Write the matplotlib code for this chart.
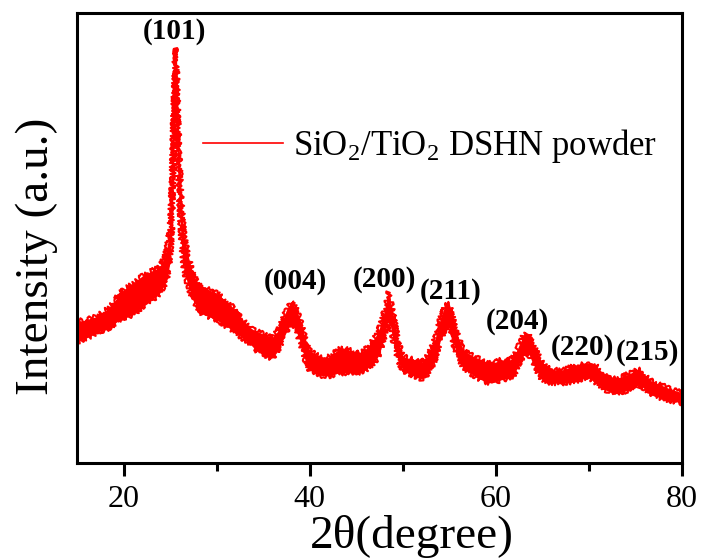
import numpy as np
import matplotlib.pyplot as plt

#%% data (intensity in arbitrary units)
two_theta = [15.0, 15.5, 16.0, 16.5, 17.0, 17.5, 18.0, 18.5, 19.0, 19.5,
             20.0, 20.5, 21.0, 21.5, 22.0, 22.5, 23.0, 23.5, 24.0, 24.5,
             24.75, 25.0, 25.2, 25.35, 25.5, 25.6, 25.7, 25.85, 26.0, 26.25,
             26.5, 27.0, 27.5, 28.0, 28.5, 29.0, 29.5, 30.0, 30.5, 31.0,
             31.5, 32.0, 32.5, 33.0, 33.5, 34.0, 34.5, 35.0, 35.5, 36.0,
             36.5, 37.0, 37.5, 38.0, 38.5, 39.0, 39.5, 40.0, 40.5, 41.0,
             41.5, 42.0, 42.5, 43.0, 43.5, 44.0, 44.5, 45.0, 45.5, 46.0,
             46.5, 47.0, 47.5, 48.0, 48.5, 49.0, 49.5, 50.0, 50.5, 51.0,
             51.5, 52.0, 52.5, 53.0, 53.5, 54.0, 54.5, 55.0, 55.5, 56.0,
             56.5, 57.0, 57.5, 58.0, 58.5, 59.0, 59.5, 60.0, 60.5, 61.0,
             61.5, 62.0, 62.5, 63.0, 63.5, 64.0, 64.5, 65.0, 65.5, 66.0,
             66.5, 67.0, 67.5, 68.0, 68.5, 69.0, 69.5, 70.0, 70.5, 71.0,
             71.5, 72.0, 72.5, 73.0, 73.5, 74.0, 74.5, 75.0, 75.5, 76.0,
             76.5, 77.0, 77.5, 78.0, 78.5, 79.0, 79.5, 80.0]

# upper and lower edge of the noisy trace
int_top = [143, 142, 143, 145, 146, 149, 152, 156, 161, 169,
           173, 176, 179, 183, 187, 189, 192, 194, 198, 208,
           220, 238, 283, 343, 398, 415, 403, 353, 308, 258,
           228, 205, 188, 180, 176, 174, 172, 170, 166, 162,
           158, 153, 147, 141, 136, 133, 131, 129, 127, 126,
           131, 141, 153, 161, 155, 143, 125, 113, 109, 107,
           106, 106, 109, 113, 115, 114, 112, 110, 111, 114,
           119, 125, 135, 151, 171, 148, 123, 107, 105, 104,
           103, 101, 105, 113, 125, 143, 157, 159, 141, 125,
           113, 110, 107, 105, 103, 101, 100, 101, 103, 103,
           103, 107, 118, 128, 129, 118, 109, 100, 95, 94,
           93, 93, 94, 96, 97, 98, 100, 100, 99, 95,
           90, 87, 86, 85, 86, 88, 90, 92, 93, 88,
           83, 81, 79, 77, 75, 73, 72, 70]
int_bot = [121, 123, 125, 127, 130, 132, 133, 135, 139, 143,
           145, 146, 149, 152, 156, 159, 163, 166, 171, 180,
           188, 201, 233, 293, 363, 393, 368, 303, 263, 218,
           193, 175, 163, 153, 149, 147, 145, 143, 140, 137,
           134, 131, 127, 123, 120, 115, 111, 108, 106, 105,
           111, 121, 131, 140, 133, 121, 103, 93, 90, 88,
           87, 87, 88, 90, 90, 90, 90, 90, 91, 93,
           97, 101, 109, 125, 146, 121, 103, 93, 90, 88,
           86, 84, 87, 94, 103, 121, 133, 135, 118, 105,
           96, 92, 88, 85, 83, 81, 80, 81, 83, 84,
           85, 89, 99, 108, 110, 99, 91, 83, 80, 80,
           80, 79, 80, 81, 82, 83, 85, 85, 82, 79,
           75, 72, 71, 70, 71, 72, 74, 77, 78, 74,
           69, 67, 66, 64, 63, 62, 61, 60]

peak_labels = ['(101)', '(004)', '(200)', '(211)', '(204)', '(220)', '(215)']
label_x = [25.5, 38.5, 48.0, 55.1, 62.3, 69.3, 76.3]
label_y = [431, 182, 184, 172, 142, 116, 111]

#%% plotting
plt.rcParams['font.family'] = ['Liberation Serif', 'DejaVu Serif']
plt.rcParams['mathtext.fontset'] = 'custom'
plt.rcParams['mathtext.rm'] = 'Liberation Serif'
plt.rcParams['mathtext.it'] = 'Liberation Serif:italic'

red = '#ff0000'
fig = plt.figure(figsize=(7.03, 5.6), dpi=100)
ax = fig.add_axes([0.1095, 0.1732, 0.8605, 0.8036])

ax.fill_between(two_theta, int_bot, int_top, color=red, lw=0)
# rough edges to look like the noisy scan
for edge in (int_top, int_bot):
    ln, = ax.plot(two_theta, edge, color=red, lw=1.5)
    ln.set_sketch_params(scale=2.5, length=1.5, randomness=8)
mid = (np.array(int_top) + np.array(int_bot)) / 2
ax.plot(two_theta, mid, color=red, lw=1.2, label=r'SiO$_2$/TiO$_2$ DSHN powder')

for lab, lx, ly in zip(peak_labels, label_x, label_y):
    ax.text(lx, ly, lab, ha='center', va='center', fontsize=21, fontweight='bold')

ax.set_xlim(15, 80)
ax.set_ylim(0, 450)
ax.set_xticks([20, 40, 60, 80])
ax.set_xticks([30, 50, 70], minor=True)
ax.set_yticks([])
ax.tick_params(axis='x', which='major', direction='out', length=9, width=2.2, labelsize=23, pad=7)
ax.tick_params(axis='x', which='minor', direction='out', length=6, width=2.2)
for s in ax.spines.values():
    s.set_linewidth(2.2)

ax.set_xlabel('2\u03b8(degree)', fontsize=34)
ax.xaxis.set_label_coords(0.553, -0.115)
ax.set_ylabel('Intensity (a.u.)', fontsize=34)
ax.yaxis.set_label_coords(-0.031, 0.46)

ax.legend(loc='center left', bbox_to_anchor=(0.208, 0.705), frameon=False,
          fontsize=25, handlelength=2.3, handletextpad=0.3, borderpad=0, borderaxespad=0)

plt.savefig('out.png', dpi=100)
